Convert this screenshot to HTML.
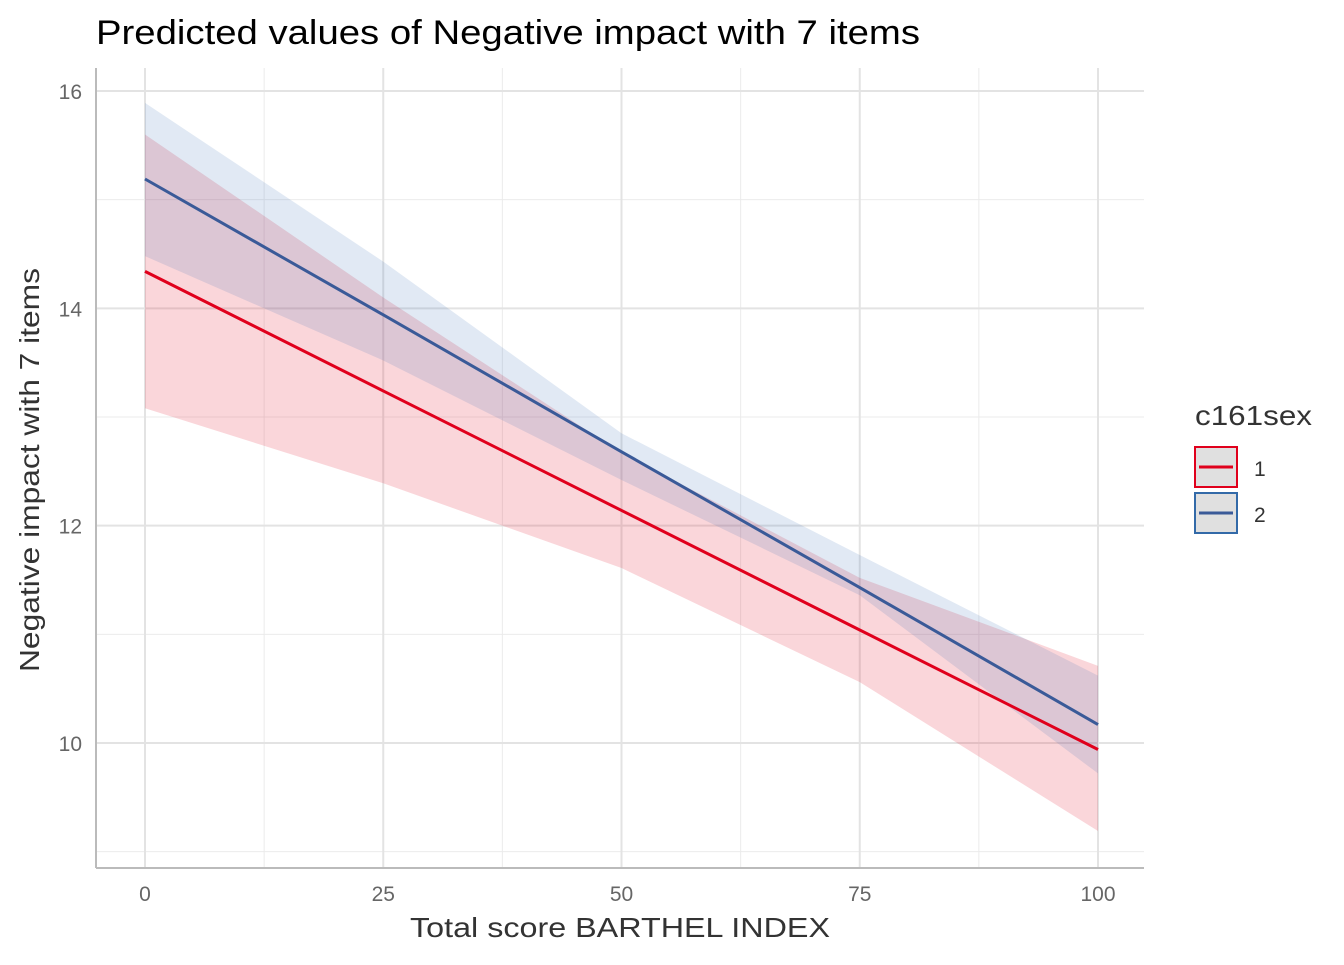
<!DOCTYPE html>
<html><head><meta charset="utf-8"><style>
body{margin:0;background:#fff;font-family:"Liberation Sans",sans-serif}
</style></head><body>
<svg id="chart" width="1344" height="960" font-family="Liberation Sans, sans-serif">
<text x="96" y="44" font-size="34" fill="#000" textLength="824" lengthAdjust="spacingAndGlyphs">Predicted values of Negative impact with 7 items</text>
<g id="grid"></g>
<g id="bands"></g>
<g id="lines"></g>
<g id="axes"></g>
<text x="620" y="937" font-size="28" fill="#333" text-anchor="middle" textLength="420" lengthAdjust="spacingAndGlyphs">Total score BARTHEL INDEX</text>
<text transform="translate(39,470) rotate(-90)" font-size="28" fill="#333" text-anchor="middle" textLength="404" lengthAdjust="spacingAndGlyphs">Negative impact with 7 items</text>
<g>
<text x="1195" y="425" font-size="28" fill="#333" textLength="117" lengthAdjust="spacingAndGlyphs">c161sex</text>
<g>
<rect x="1195" y="447" width="42" height="40" fill="#e0e0e0" stroke="#e0001c" stroke-width="2"/>
<line x1="1199" y1="467" x2="1233" y2="467" stroke="#e0001c" stroke-width="3"/>
<text x="1254" y="476" font-size="21" fill="#333">1</text></g>
<g>
<rect x="1195" y="493" width="42" height="40" fill="#e0e0e0" stroke="#336aa8" stroke-width="2"/>
<line x1="1199" y1="513" x2="1233" y2="513" stroke="#3a5a98" stroke-width="3"/>
<text x="1254" y="522" font-size="21" fill="#333">2</text></g>
</g>
</svg>
<script>
const xs=[0,25,50,75,100];
const redFit=[14.34,13.24,12.14,11.04,9.94];
const redLo=[13.08,12.39,11.61,10.56,9.19];
const redHi=[15.6,14.1,12.67,11.52,10.71];
const blueFit=[15.19,13.94,12.68,11.43,10.17];
const blueLo=[14.48,13.52,12.42,11.36,9.72];
const blueHi=[15.89,14.43,12.85,11.73,10.62];
const xTicks=[0,25,50,75,100];
const yTicks=[10,12,14,16];
const NS="http://www.w3.org/2000/svg";
const X=v=>145+v*9.53, Y=v=>743-(v-10)*108.67;
function mk(t,a,p){const e=document.createElementNS(NS,t);for(const k in a)e.setAttribute(k,a[k]);document.getElementById(p).appendChild(e);return e;}
[12.5,37.5,62.5,87.5].forEach(v=>{const e=mk('line',{x1:X(v),x2:X(v),y1:68,y2:868,stroke:'#ebebeb','stroke-width':1},'grid');

});
[9,11,13,15].forEach(v=>{const e=mk('line',{x1:96,x2:1144,y1:Y(v),y2:Y(v),stroke:'#ebebeb','stroke-width':1},'grid');

});
xTicks.forEach(v=>{const e=mk('line',{x1:X(v),x2:X(v),y1:68,y2:868,stroke:'#e3e3e3','stroke-width':2},'grid');


const t=mk('text',{x:X(v),y:901,'font-size':21,fill:'#666','text-anchor':'middle'},'axes');t.textContent=v;

});
yTicks.forEach(v=>{const e=mk('line',{x1:96,x2:1144,y1:Y(v),y2:Y(v),stroke:'#e3e3e3','stroke-width':2},'grid');


const t=mk('text',{x:82,y:Y(v)+8,'font-size':21,fill:'#666','text-anchor':'end'},'axes');t.textContent=v;

});
let a=mk('line',{x1:96,x2:96,y1:68,y2:868,stroke:'#bbb','stroke-width':2},'axes');


a=mk('line',{x1:96,x2:1144,y1:868,y2:868,stroke:'#bbb','stroke-width':2},'axes');


function band(lo,hi,col,name){const pts=xs.map((x,i)=>X(x)+','+Y(hi[i])).concat(xs.slice().reverse().map((x,j)=>{const i=xs.length-1-j;return X(x)+','+Y(lo[i]);}));
const e=mk('polygon',{points:pts.join(' '),fill:col},'bands');

}
band(redLo,redHi,'rgba(228,26,48,0.18)','ci-band-1');
band(blueLo,blueHi,'rgba(55,110,180,0.15)','ci-band-2');
function line(f,col,name){const e=mk('polyline',{points:xs.map((x,i)=>X(x)+','+Y(f[i])).join(' '),fill:'none',stroke:col,'stroke-width':3},'lines');

}
line(redFit,'#e0001c','line-sex-1');
line(blueFit,'#3a5a98','line-sex-2');
</script>
</body></html>
